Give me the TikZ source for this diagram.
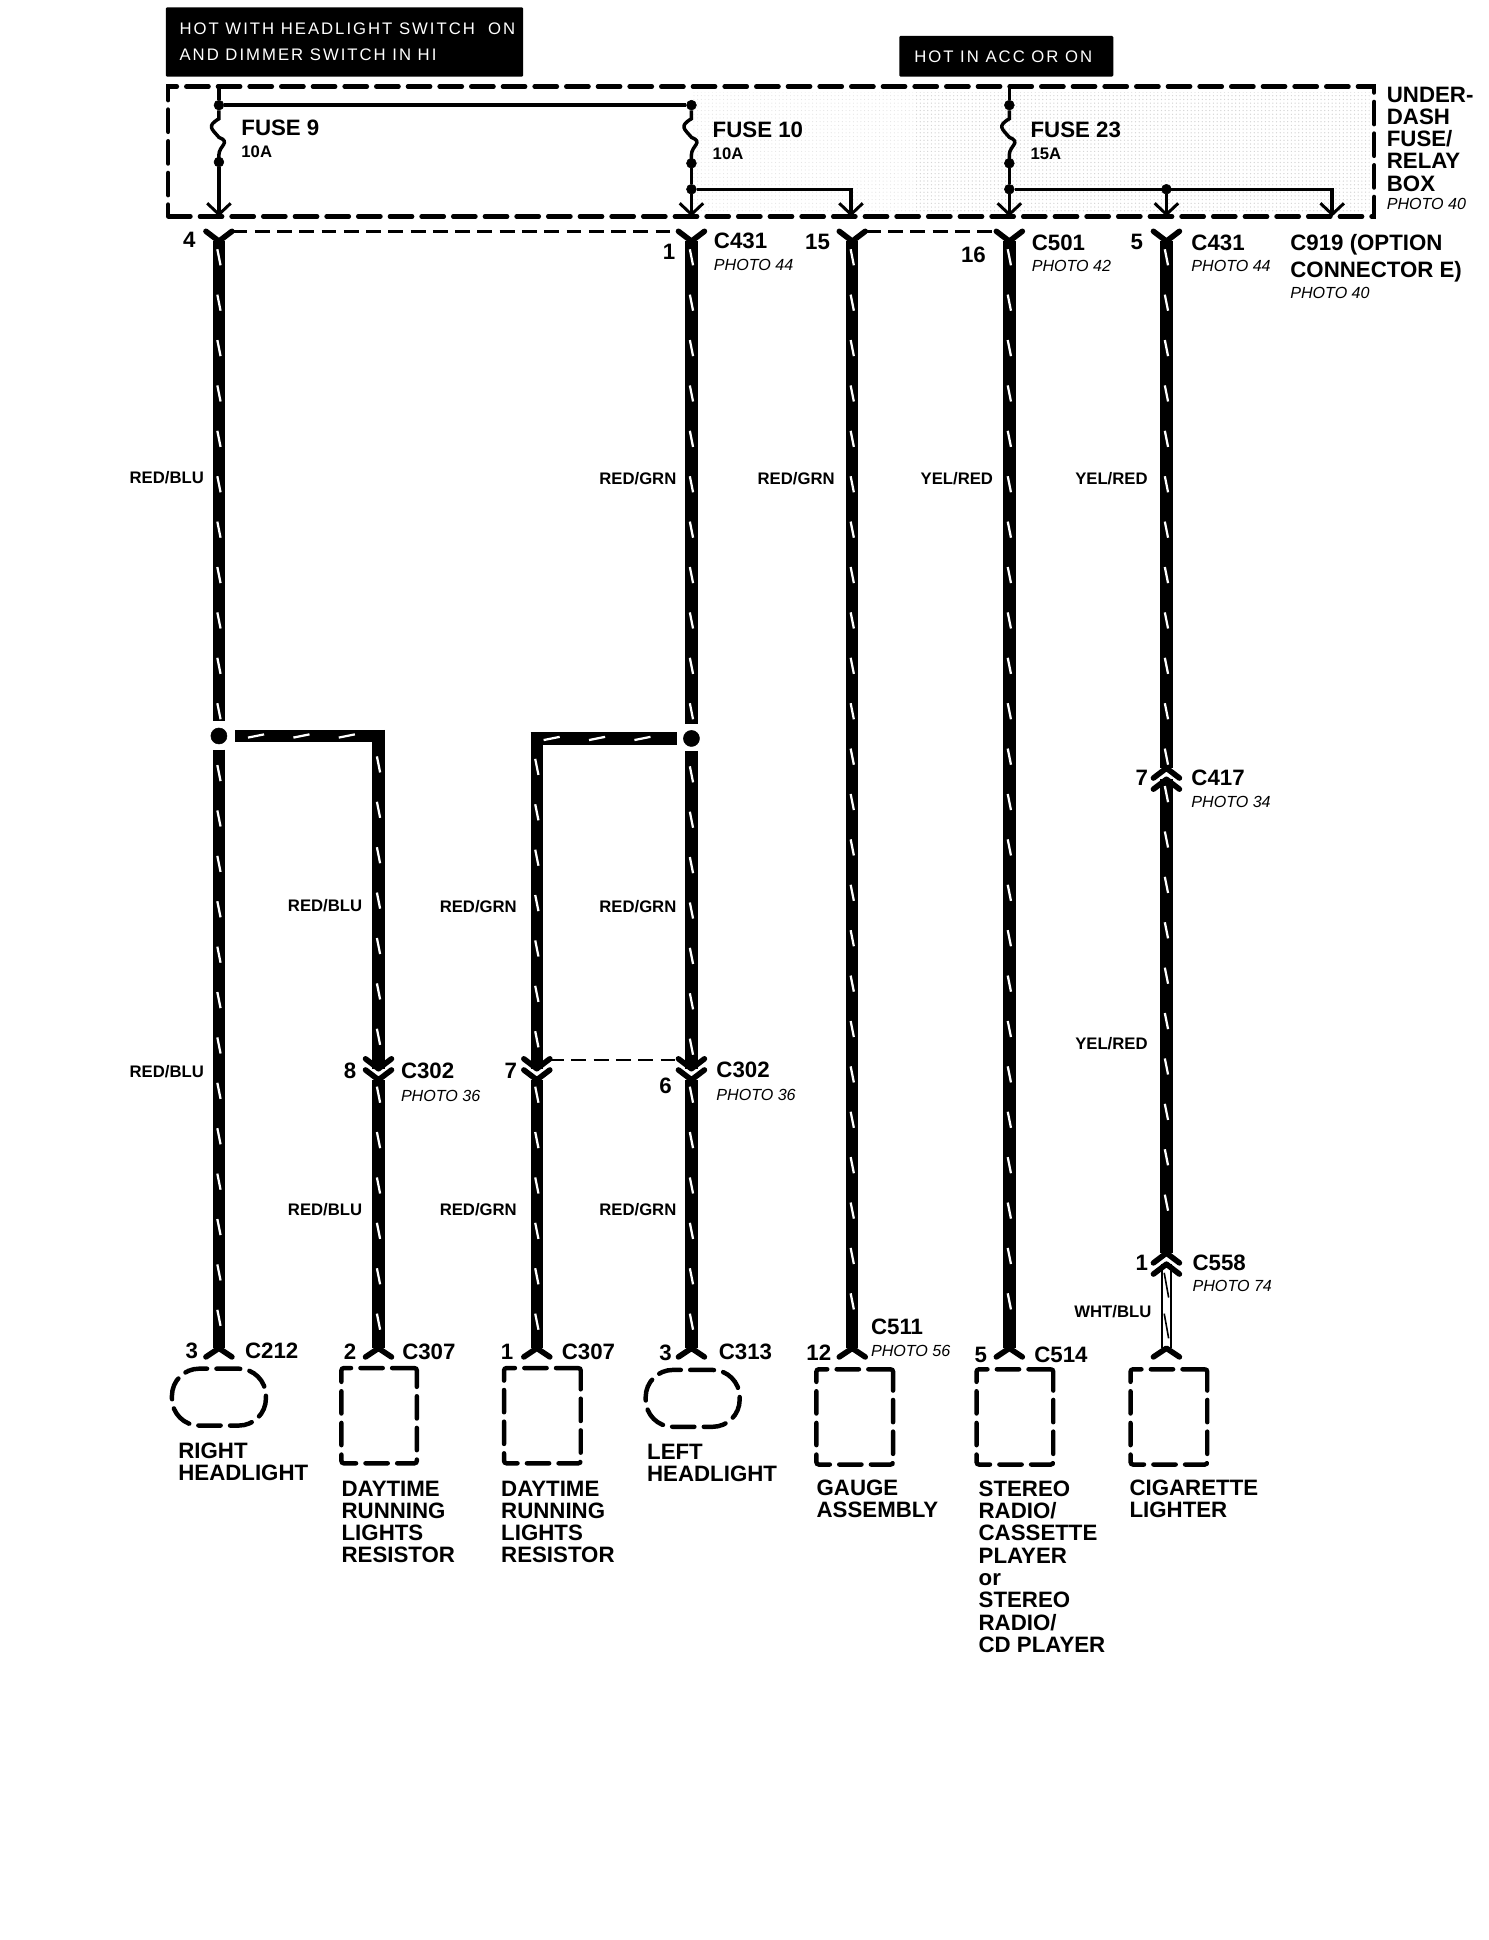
\documentclass[tikz,border=0pt]{standalone}
\usepackage{fontspec}
\setmainfont{Liberation Sans}
\usetikzlibrary{calc,patterns,arrows.meta,decorations.markings}
\def\fork(#1)(#2){\draw[forkline] ($(#1)+(-10.5,#2)$) -- (#1) -- ($(#1)+(10.5,#2)$);}
\def\fuselink(#1){\draw[feed] (#1) -- ++(0,11) .. controls +(-10,6) and +(-6,-7) .. ++(0,15) .. controls +(10,4) and +(0,-7) .. ++(0,14) -- ++(0,7);}
\tikzset{
	wire/.style={line width=10pt, postaction={decorate, decoration={markings,
		mark=between positions #1 and -6pt step 36.7pt with {\draw[white, line width=1.8pt] (-6.5pt,-1.3pt) -- (6.5pt,1.3pt);}}}},
	wire/.default=13pt,
	hollowwire/.style={preaction={draw, black, line width=9.5pt}, white, line width=5.5pt, postaction={decorate, decoration={markings,
		mark=between positions 17pt and -6pt step 33pt with {\draw[black, line width=1.3pt] (-10pt,-1.8pt) -- (10pt,1.8pt);}}}},
	forkline/.style={line width=4.5pt, line cap=round, line join=round},
	feed/.style={line width=2.8pt},
	feedtip/.style={feed, -{Straight Barb[length=9pt,width=19pt,line width=2.4pt]}},
	joint/.style={draw, fill=black, circle, inner sep=0pt, minimum size=8pt},
	splice/.style={draw, fill=black, circle, inner sep=0pt, minimum size=13pt},
	link/.style={line width=2pt, dash pattern=on 12pt off 6pt},
	boxline/.style={draw, line width=3.6pt, line cap=round, dash pattern=on 18pt off 7.6pt},
	compbox/.style={boxline, rounded corners=2pt, inner sep=0pt},
	lamp/.style={boxline, rounded corners=22pt, inner sep=0pt, minimum width=76pt, minimum height=46pt},
	flag/.style={fill=black, text=white, inner sep=0pt, rounded corners=1pt},
	flagtext/.style={font=\fontsize{13.5}{21}\addfontfeature{LetterSpace=12}\selectfont, text=white, align=left, inner sep=0pt, anchor=west},
	conntext/.style={font=\fontsize{18}{18}\bfseries\selectfont, inner sep=0pt, anchor=west, yshift=-1pt},
	pintext/.style={font=\fontsize{18}{18}\bfseries\selectfont, inner sep=0pt, yshift=-1pt},
	titletext/.style={font=\fontsize{18}{18}\bfseries\selectfont, inner sep=0pt, anchor=north west, align=left, yshift=-1pt},
	phototext/.style={font=\fontsize{13}{13}\itshape\selectfont, inner sep=0pt, anchor=west},
	ampstext/.style={font=\fontsize{13.5}{13.5}\bfseries\selectfont, inner sep=0pt, anchor=west},
	wiretext/.style={font=\fontsize{13.5}{13.5}\bfseries\selectfont, inner sep=0pt, anchor=east, yshift=-1pt},
}
\begin{document}
\begin{tikzpicture}[x=1pt, y=-1pt]
	\useasboundingbox (0,0) rectangle (1203,1568.4);
	%%%%% FUSE BOX %%%%%
	
	\fill[pattern=dots, pattern color=black!10] (560,75) rectangle (1107,171);
	\fill[pattern=dots, pattern color=black!16] (740,75) rectangle (1107,171);
	
	\node[boxline, minimum width=975pt, minimum height=105pt, inner sep=0pt] (fusebox) at (623.5,122.5) {};
	
	\node[flag, minimum width=289pt, minimum height=56pt] (hotlamp) at (278.5,34) {};
	\node[flagtext] (hotlamptext) at (145,34) {HOT WITH HEADLIGHT SWITCH\ \ ON\\AND DIMMER SWITCH IN HI};
	\node[flag, minimum width=173pt, minimum height=33pt] (hotacc) at (813.5,45.5) {};
	\node[flagtext] (hotacctext) at (739,46) {HOT IN ACC OR ON};
	
	\coordinate (f9in) at (177,70);
	\coordinate (f9tip) at (177,175);
	\coordinate (f10tip) at (559,175);
	\coordinate (f10tap) at (688,175);
	\coordinate (f23in) at (816,70);
	\coordinate (f23tip) at (816,175);
	\coordinate (f23mid) at (943,175);
	\coordinate (f23end) at (1077,175);
	
	\node[joint] (j9a) at (177,85) {};
	\node[joint] (j9b) at (177,131) {};
	\node[joint] (j10a) at (559,85) {};
	\node[joint] (j10b) at (559,132) {};
	\node[joint] (j10c) at (559,153) {};
	\node[joint] (j23a) at (816,85) {};
	\node[joint] (j23b) at (816,132) {};
	\node[joint] (j23c) at (816,153) {};
	\node[joint] (j23d) at (943,153) {};
	
	\draw[feed] (f9in) -- (j9a);
	\draw[feed] (j9a) -- (j10a);
	\fuselink(j9a);
	\fuselink(j10a);
	\draw[feed] (f23in) -- (j23a);
	\fuselink(j23a);
	\draw[feedtip] (j9b) -- (f9tip);
	\draw[feed] (j10b) -- (j10c);
	\draw[feedtip] (j10c) -- (f10tip);
	\draw[feedtip] (j10c) -| (f10tap);
	\draw[feed] (j23b) -- (j23c);
	\draw[feedtip] (j23c) -- (f23tip);
	\draw[feedtip] (j23c) -| (f23end);
	\draw[feedtip] (j23d) -- (f23mid);
	
	\node[conntext] (fuse9) at (195,102) {FUSE 9};
	\node[ampstext] (amp9) at (195,123) {10A};
	\node[conntext] (fuse10) at (576,104) {FUSE 10};
	\node[ampstext] (amp10) at (576,124) {10A};
	\node[conntext] (fuse23) at (833,104) {FUSE 23};
	\node[ampstext] (amp23) at (833,124) {15A};
	\node[titletext] (boxname) at (1121,69) {UNDER-\\DASH\\FUSE/\\RELAY\\BOX};
	\node[phototext] (boxphoto) at (1121,165) {PHOTO 40};
	
	%%%%% TOP CONNECTORS %%%%%
	
	\coordinate (top1) at (177,195);
	\coordinate (top2) at (559,195);
	\coordinate (top3) at (689,195);
	\coordinate (top4) at (816,195);
	\coordinate (top5) at (943,195);
	
	\fork(top1)(-8);
	\fork(top2)(-8);
	\fork(top3)(-8);
	\fork(top4)(-8);
	\fork(top5)(-8);
	
	\draw[link] ($(top1)+(11,-8)$) -- ($(top2)+(-11,-8)$);
	\draw[link] ($(top3)+(11,-8)$) -- ($(top4)+(-11,-8)$);
	
	\node[pintext] (pin4) at (153,193) {4};
	\node[pintext] (pin1) at (541,203) {1};
	\node[conntext] (c431a) at (577,194) {C431};
	\node[phototext] (c431aphoto) at (577,214) {PHOTO 44};
	\node[pintext] (pin15) at (661,195) {15};
	\node[pintext] (pin16) at (787,205) {16};
	\node[conntext] (c501) at (834,195) {C501};
	\node[phototext] (c501photo) at (834,215) {PHOTO 42};
	\node[pintext] (pin5) at (919,195) {5};
	\node[conntext] (c431b) at (963,195) {C431};
	\node[phototext] (c431bphoto) at (963,215) {PHOTO 44};
	\node[titletext] (c919) at (1043,188) {C919 (OPTION\\[4pt]CONNECTOR E)};
	\node[phototext] (c919photo) at (1043,237) {PHOTO 40};
	
	%%%%% WIRES %%%%%
	
	\node[splice] (s1) at (177,595) {};
	\node[splice] (s2) at (559,597) {};
	
	\coordinate (s1up) at (177,583);
	\coordinate (s1down) at (177,606);
	\coordinate (s2up) at (559,585);
	\coordinate (s2down) at (559,607);
	\coordinate (s1east) at (190,595);
	\coordinate (s2west) at (547,597);
	\coordinate (b1bend) at (306,590);
	\coordinate (b1corner) at (311,595);
	\coordinate (b2bend) at (434,592);
	\coordinate (b2corner) at (429,597);
	
	\coordinate (c302a) at (306,864);
	\coordinate (c302b) at (306,873);
	\coordinate (c302c) at (434,864);
	\coordinate (c302d) at (434,873);
	\coordinate (c302e) at (559,864);
	\coordinate (c302f) at (559,873);
	\coordinate (c417a) at (943,621);
	\coordinate (c417b) at (943,630);
	\coordinate (c558a) at (943,1013);
	\coordinate (c558b) at (943,1022);
	
	\coordinate (end1) at (177,1090);
	\coordinate (end2) at (306,1090);
	\coordinate (end3) at (434,1090);
	\coordinate (end4) at (559,1090);
	\coordinate (end5) at (689,1090);
	\coordinate (end6) at (816,1090);
	\coordinate (end7) at (943,1090);
	
	\draw[wire] (top1) -- (s1up);
	\draw[wire=19pt] (s1down) -- (end1);
	\draw[wire] (top2) -- (s2up);
	\draw[wire=19pt] (s2down) -- (c302e);
	\draw[wire=12pt] (c302f) -- (end4);
	\draw[wire=17pt] (s1east) -- (b1corner);
	\draw[wire=28pt] (b1bend) -- (c302a);
	\draw[wire=12pt] (c302b) -- (end2);
	\draw[wire=17pt] (b2corner) -- (s2west);
	\draw[wire=28pt] (b2bend) -- (c302c);
	\draw[wire=12pt] (c302d) -- (end3);
	\draw[wire] (top3) -- (end5);
	\draw[wire] (top4) -- (end6);
	\draw[wire] (top5) -- (c417a);
	\draw[wire=12pt] (c417b) -- (c558a);
	\draw[hollowwire] (c558b) -- (end7);
	
	\fork(c302a)(-8);
	\fork(c302b)(-8);
	\fork(c302c)(-8);
	\fork(c302d)(-8);
	\fork(c302e)(-8);
	\fork(c302f)(-8);
	\fork(c417a)(8);
	\fork(c417b)(8);
	\fork(c558a)(8);
	\fork(c558b)(8);
	\fork(end1)(7);
	\fork(end2)(7);
	\fork(end3)(7);
	\fork(end4)(7);
	\fork(end5)(7);
	\fork(end6)(7);
	\fork(end7)(7);
	
	\draw[link] ($(c302c)+(10,-7)$) -- ($(c302e)+(-10,-7)$);
	
	\node[wiretext] (wc1) at (165,385) {RED/BLU};
	\node[wiretext] (wc2) at (547,386) {RED/GRN};
	\node[wiretext] (wc3) at (675,386) {RED/GRN};
	\node[wiretext] (wc4) at (803,386) {YEL/RED};
	\node[wiretext] (wc5) at (928,386) {YEL/RED};
	\node[wiretext] (wc6) at (293,731) {RED/BLU};
	\node[wiretext] (wc7) at (418,732) {RED/GRN};
	\node[wiretext] (wc8) at (547,732) {RED/GRN};
	\node[wiretext] (wc9) at (165,865) {RED/BLU};
	\node[wiretext] (wc10) at (928,843) {YEL/RED};
	\node[wiretext] (wc11) at (293,977) {RED/BLU};
	\node[wiretext] (wc12) at (418,977) {RED/GRN};
	\node[wiretext] (wc13) at (547,977) {RED/GRN};
	\node[wiretext] (wc14) at (931,1059) {WHT/BLU};
	
	\node[pintext] (pin7b) at (923,628) {7};
	\node[conntext] (c417) at (963,628) {C417};
	\node[phototext] (c417photo) at (963,648) {PHOTO 34};
	\node[pintext] (pin8) at (283,865) {8};
	\node[conntext] (c302l) at (324,865) {C302};
	\node[phototext] (c302lphoto) at (324,886) {PHOTO 36};
	\node[pintext] (pin7) at (413,865) {7};
	\node[pintext] (pin6) at (538,877) {6};
	\node[conntext] (c302r) at (579,864) {C302};
	\node[phototext] (c302rphoto) at (579,885) {PHOTO 36};
	\node[pintext] (pin1b) at (923,1020) {1};
	\node[conntext] (c558) at (964,1020) {C558};
	\node[phototext] (c558photo) at (964,1040) {PHOTO 74};
	
	%%%%% COMPONENTS %%%%%
	
	\node[pintext] (pin3a) at (155,1091) {3};
	\node[conntext] (c212) at (198,1091) {C212};
	\node[pintext] (pin2) at (283,1092) {2};
	\node[conntext] (c307a) at (325,1092) {C307};
	\node[pintext] (pin1c) at (410,1092) {1};
	\node[conntext] (c307b) at (454,1092) {C307};
	\node[pintext] (pin3b) at (538,1093) {3};
	\node[conntext] (c313) at (581,1092) {C313};
	\node[conntext] (c511) at (704,1072) {C511};
	\node[pintext] (pin12) at (662,1093) {12};
	\node[phototext] (c511photo) at (704,1092) {PHOTO 56};
	\node[pintext] (pin5b) at (793,1094) {5};
	\node[conntext] (c514) at (836,1094) {C514};
	
	\node[lamp] (rightlamp) at (177,1129.5) {};
	\node[lamp] (leftlamp) at (560,1130.5) {};
	\node[compbox, minimum width=61pt, minimum height=77pt] (resistora) at (306.5,1144.5) {};
	\node[compbox, minimum width=62pt, minimum height=77pt] (resistorb) at (438.5,1144.5) {};
	\node[compbox, minimum width=62pt, minimum height=77pt] (gauge) at (691,1145.5) {};
	\node[compbox, minimum width=62pt, minimum height=77pt] (stereo) at (820.5,1145.5) {};
	\node[compbox, minimum width=62pt, minimum height=77pt] (lighter) at (945,1145.5) {};
	
	\node[titletext] (rightname) at (144,1165) {RIGHT\\HEADLIGHT};
	\node[titletext] (resistoraname) at (276,1196) {DAYTIME\\RUNNING\\LIGHTS\\RESISTOR};
	\node[titletext] (resistorbname) at (405,1196) {DAYTIME\\RUNNING\\LIGHTS\\RESISTOR};
	\node[titletext] (leftname) at (523,1166) {LEFT\\HEADLIGHT};
	\node[titletext] (gaugename) at (660,1195) {GAUGE\\ASSEMBLY};
	\node[titletext] (stereoname) at (791,1196) {STEREO\\RADIO/\\CASSETTE\\PLAYER\\or\\STEREO\\RADIO/\\CD PLAYER};
	\node[titletext] (lightername) at (913,1195) {CIGARETTE\\LIGHTER};
	
	%%%%% END %%%%%
\end{tikzpicture}
\end{document}
